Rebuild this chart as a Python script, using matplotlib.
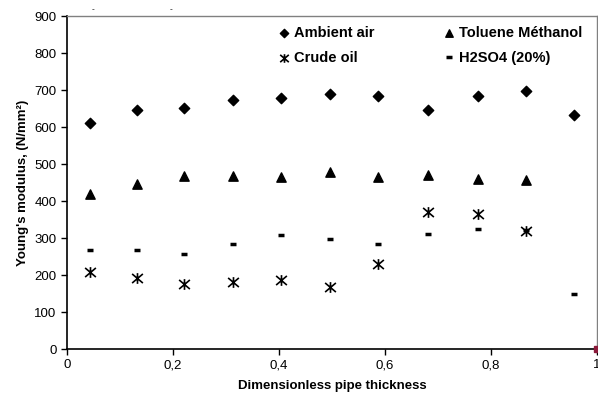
import matplotlib
matplotlib.use("Agg")
import matplotlib.pyplot as plt
from matplotlib.path import Path
from matplotlib.ticker import FuncFormatter

plt.rcParams["font.family"] = ["Liberation Sans", "DejaVu Sans"]

# dimensionless pipe thickness positions
x_pos = [0.043, 0.132, 0.221, 0.313, 0.404, 0.496, 0.587, 0.681, 0.776, 0.866, 0.957]

ambient_air = [611, 646, 651, 673, 678, 689, 684, 646, 684, 697, 632]
toluene_methanol = [419, 446, 468, 468, 465, 478, 465, 470, 459, 457]
crude_oil = [207, 192, 175, 182, 186, 168, 230, 370, 365, 319]
h2so4 = [268, 268, 258, 283, 308, 298, 284, 311, 324, 322, 149]

# Excel-style star: an x with a vertical bar through it
star = Path([(-1, -0.85), (1, 0.85), (-1, 0.85), (1, -0.85), (0, -1), (0, 1)],
            [Path.MOVETO, Path.LINETO, Path.MOVETO, Path.LINETO, Path.MOVETO, Path.LINETO])

fig = plt.figure(figsize=(5.98, 4.04), dpi=100)
ax = fig.add_axes([0.112, 0.136, 0.886, 0.824])

ax.scatter(x_pos, ambient_air, marker="D", s=28, color="black", label="Ambient air", zorder=3)
ax.scatter(x_pos[:len(crude_oil)], crude_oil, marker=star, s=60, color="black",
           linewidths=1.2, label="Crude oil", zorder=3)
ax.scatter(x_pos[:len(toluene_methanol)], toluene_methanol, marker="^", s=45, color="black",
           label="Toluene Méthanol", zorder=3)
ax.plot(x_pos, h2so4, linestyle="none", marker="_", markersize=5, markeredgewidth=2.5,
        color="black", label="H2SO4 (20%)", zorder=3)
# stray point sitting on the corner of the axes
ax.plot([1.0], [0], marker="s", markersize=4, color="#8b1a3a", clip_on=False, zorder=4)

ax.set_xlim(0, 1)
ax.set_ylim(0, 900)
ax.set_xticks([0, 0.2, 0.4, 0.6, 0.8, 1.0])
ax.set_yticks(range(0, 901, 100))
ax.xaxis.set_major_formatter(FuncFormatter(lambda v, p: f"{v:g}".replace(".", ",")))
ax.tick_params(direction="out", length=4, width=1, labelsize=9.5, colors="black")

for s in ("top", "right"):
    ax.spines[s].set_color("#808080")
    ax.spines[s].set_linewidth(1)
for s in ("left", "bottom"):
    ax.spines[s].set_color("black")
    ax.spines[s].set_linewidth(1.2)

ax.set_xlabel("Dimensionless pipe thickness", fontsize=9.5, fontweight="bold", labelpad=6)
ax.set_ylabel("Young's modulus, (N/mm²)", fontsize=9.5, fontweight="bold", labelpad=4)

leg = ax.legend(ncol=2, loc="upper right", bbox_to_anchor=(0.997, 1.01), frameon=False,
                prop={"weight": "bold", "size": 10.5}, handletextpad=0.2,
                columnspacing=4.6, labelspacing=0.75, handlelength=1.0, markerscale=0.8)

# remnants of a cut-off title above the plot
fig.text(93 / 598, 1 - 10 / 404, "-", fontsize=6, ha="center", va="center")
fig.text(171 / 598, 1 - 10 / 404, "-", fontsize=6, ha="center", va="center")

fig.savefig("out.png", dpi=100)
